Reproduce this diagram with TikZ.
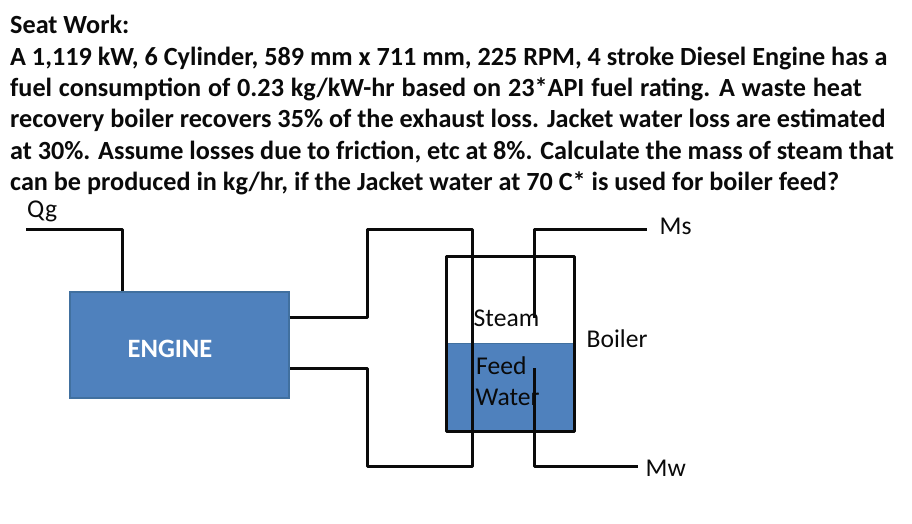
\documentclass[tikz,border=0pt]{standalone}
\usepackage{fontspec}
\setmainfont{Carlito}
\definecolor{fillblue}{HTML}{4F81BD}
\definecolor{edgeblue}{HTML}{41709F}
\definecolor{ink}{HTML}{0A0A0A}
\tikzset{
  x=1pt,y=-1pt,
  headline/.style={anchor=base west,inner sep=0pt,font=\fontsize{26.2}{30}\selectfont\bfseries,text=ink},
  label/.style={inner sep=0pt,font=\fontsize{25.6}{29}\selectfont,text=ink},
  pipe/.style={draw=ink,line width=3pt,line join=round},
  boxedge/.style={draw=edgeblue,line width=2pt,fill=fillblue},
}
\begin{document}
\begin{tikzpicture}
\useasboundingbox (0,0) rectangle (912,523);
\fill[white] (0,0) rectangle (912,523);
\node[headline] at (10,33) {Seat Work:};
\node[headline] at (10,65) {A 1,119 kW, 6 Cylinder, 589 mm x 711 mm, 225 RPM, 4 stroke Diesel Engine has a};
\node[headline] at (10,96) {\spaceskip=6.8pt fuel consumption of 0.23 kg/kW-hr based on 23*API fuel rating. A waste heat};
\node[headline] at (10,127) {recovery boiler recovers 35\% of the exhaust loss. Jacket water loss are estimated};
\node[headline] at (10,159) {\spaceskip=5.8pt at 30\%. Assume losses due to friction, etc at 8\%. Calculate the mass of steam that};
\node[headline] at (10,190) {can be produced in kg/hr, if the Jacket water at 70 C* is used for boiler feed?};

\node[boxedge,minimum width=219pt,minimum height=106pt,anchor=north west,inner sep=0pt] (engine) at (68.5,291) {};
\node[font=\fontsize{26.5}{30}\selectfont\bfseries,text=white,inner sep=0pt,anchor=base] (enginetext) at (170,357) {ENGINE};

\node[minimum width=128pt,minimum height=175pt,anchor=north west,inner sep=0pt] (boiler) at (446,256) {};
\fill[fillblue] (446,343) rectangle (574,431);
\draw[edgeblue,line width=1pt] (446,343) -- (574,343);
\draw[pipe] (boiler.north west) rectangle (boiler.south east);

\coordinate (qgstart) at (26,229);
\coordinate (qgcorner) at (122,229);
\coordinate (eu) at (engine.east |- 0,317);
\coordinate (el) at (engine.east |- 0,368);
\coordinate (msend) at (534,318);
\coordinate (mwend) at (534,368);
\draw[pipe] (qgstart) -- (qgcorner) -- (qgcorner |- engine.north);
\draw[pipe] (eu) -- (367,317) -- (367,229) -- (472,229) -- (472,466) -- (367,466) -- (367,368) -- (el);
\node[label,anchor=base west] (ms) at (659.5,234) {Ms};
\node[label,anchor=base west] (mw) at (645.5,476) {Mw};
\draw[pipe] (msend) -- (534,229) -- (647,229);
\draw[pipe] (mwend) -- (534,466) -- (638,466);

\node[label,anchor=base west] (qg) at (27,217) {Qg};
\node[label,anchor=base west] (steam) at (473.5,326) {Steam};
\node[label,anchor=base west] (boilertext) at (586.5,347) {Boiler};
\node[label,anchor=base west] (feed) at (476,374) {Feed};
\node[label,anchor=base west] (water) at (475.5,405) {Water};
\end{tikzpicture}
\end{document}
